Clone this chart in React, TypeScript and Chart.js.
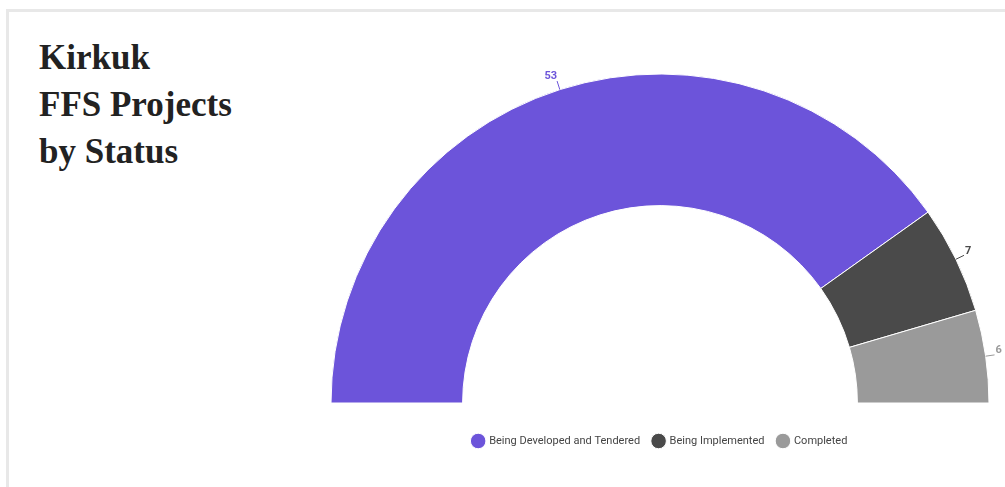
import React, { useEffect, useRef } from "react";
import { Chart, registerables } from "chart.js";

Chart.register(...registerables);

const categories = ["Being Developed and Tendered", "Being Implemented", "Completed"];
const values = [53, 7, 6];
const colors = ["#6C54DA", "#4A4A4A", "#9A9A9A"];

const leaderLabels = {
  id: "leaderLabels",
  afterDatasetsDraw(chart: any) {
    const ctx = chart.ctx;
    const meta = chart.getDatasetMeta(0);
    ctx.save();
    ctx.font = "bold 11px Roboto";
    meta.data.forEach((arc: any, i: number) => {
      const { x, y, startAngle, endAngle, outerRadius } = arc.getProps(
        ["x", "y", "startAngle", "endAngle", "outerRadius"],
        true
      );
      const mid = (startAngle + endAngle) / 2;
      const cos = Math.cos(mid);
      const sin = Math.sin(mid);
      const x0 = x + cos * outerRadius;
      const y0 = y + sin * outerRadius;
      const x1 = x + cos * (outerRadius + 9);
      const y1 = y + sin * (outerRadius + 9);
      ctx.strokeStyle = colors[i];
      ctx.lineWidth = 1;
      ctx.beginPath();
      ctx.moveTo(x0, y0);
      ctx.lineTo(x1, y1);
      ctx.stroke();
      ctx.fillStyle = colors[i];
      ctx.textAlign = cos < 0 ? "right" : "left";
      ctx.textBaseline = "bottom";
      ctx.fillText(String(values[i]), x1 + (cos < 0 ? 0 : 1), y1 + 1);
    });
    ctx.restore();
  },
};

export default function App() {
  const ref = useRef<HTMLCanvasElement>(null);
  useEffect(() => {
    if (!ref.current) return;
    const chart = new Chart(ref.current, {
      type: "doughnut",
      data: {
        labels: categories,
        datasets: [
          {
            data: values,
            backgroundColor: colors,
            borderColor: "#ffffff",
            borderWidth: 1,
          },
        ],
      },
      options: {
        responsive: false,
        animation: false,
        rotation: -90,
        circumference: 180,
        cutout: "60%",
        layout: { padding: { top: 73.5, left: 15, right: 15, bottom: 30.5 } },
        plugins: {
          tooltip: { enabled: false },
          legend: {
            position: "bottom",
            title: {
              display: true,
              text: " ",
              font: { size: 10 },
              padding: { top: 7, bottom: 0 },
            },
            labels: {
              usePointStyle: true,
              pointStyle: "circle",
              padding: 13,
              color: "#444444",
              font: { family: "Roboto", size: 11 },
            },
          },
        },
      },
      plugins: [leaderLabels],
    });
    return () => chart.destroy();
  }, []);

  return (
    <div
      style={{
        position: "fixed",
        left: 0,
        top: 0,
        width: 1005,
        height: 487,
        overflow: "hidden",
        background: "#ffffff",
      }}
    >
      <div
        style={{
          position: "absolute",
          left: 6,
          top: 9,
          width: 1100,
          height: 600,
          borderTop: "3px solid #e8e8e8",
          borderLeft: "3px solid #e8e8e8",
        }}
      />
      <div
        style={{
          position: "absolute",
          left: 39,
          top: 34,
          fontFamily: "'Liberation Serif', serif",
          fontWeight: "bold",
          fontSize: 35,
          lineHeight: "47px",
          color: "#222222",
        }}
      >
        Kirkuk
        <br />
        FFS Projects
        <br />
        by Status
      </div>
      <canvas
        ref={ref}
        width={690}
        height={487}
        style={{ position: "absolute", left: 315, top: 0, width: 690, height: 487 }}
      />
    </div>
  );
}
